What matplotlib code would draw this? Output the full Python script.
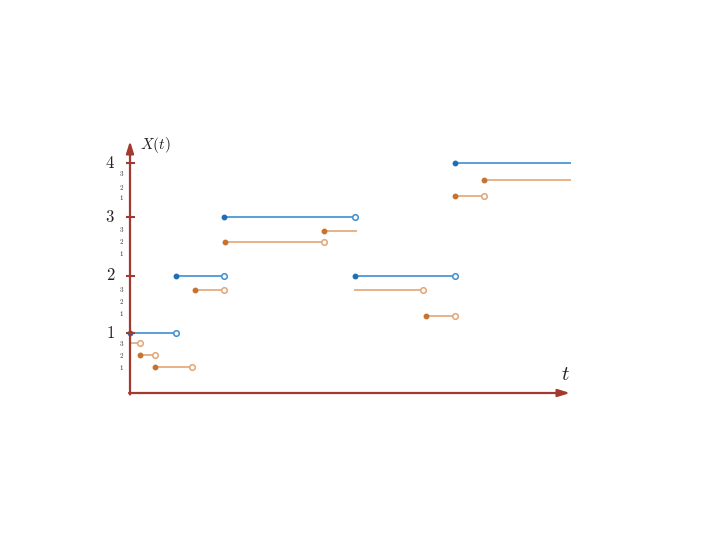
import matplotlib
matplotlib.use("Agg")
import matplotlib.pyplot as plt

plt.rcParams['mathtext.fontset'] = 'cm'
plt.rcParams['font.family'] = ['DejaVu Serif']

# ---- data (t in arbitrary units, y in layout units) ----
major_labels = ['1', '2', '3', '4']
major_y = [6.0, 11.7, 17.6, 23.0]
sub_labels = ['3', '2', '1']
sub_y = [[5.0, 3.8, 2.6], [10.3, 9.1, 8.0], [16.3, 15.2, 14.0], [21.9, 20.6, 19.5]]

blue_start = [0.0, 4.6, 9.4, 22.5, 32.5]
blue_end = [4.6, 9.4, 22.5, 32.5, 44.1]
blue_y = [6.0, 11.7, 17.6, 11.7, 23.0]
blue_start_mark = [True, True, True, True, True]
blue_end_mark = [True, True, True, True, False]

orange_start = [0.0, 1.0, 2.5, 6.5, 9.5, 19.4, 22.4, 29.6, 32.5, 35.4]
orange_end = [1.0, 2.5, 6.2, 9.4, 19.4, 22.7, 29.3, 32.5, 35.4, 44.1]
orange_y = [5.0, 3.8, 2.6, 10.3, 15.1, 16.2, 10.3, 7.7, 19.7, 21.3]
orange_start_mark = [False, True, True, True, True, True, False, True, True, True]
orange_end_mark = [True, True, True, True, True, False, True, True, True, False]

BLUE_LINE = '#3d8fd1'
BLUE_MARK = '#1f6fb5'
ORANGE_LINE = '#e2a577'
ORANGE_MARK = '#c8722f'
AXIS = '#a33a2f'

fig = plt.figure(figsize=(7.11, 5.34), dpi=100)
ax = fig.add_axes([0, 0, 1, 1])
ax.set_xlim(-13, 58.1)
ax.set_ylim(-14.1, 39.3)
ax.axis('off')

def draw(starts, ends, ys, smark, emark, lc, mc):
    for s, e, y, sm, em in zip(starts, ends, ys, smark, emark):
        ax.plot([s, e], [y, y], color=lc, lw=1.2, solid_capstyle='butt', zorder=2)
        if sm:
            ax.plot([s], [y], 'o', ms=3.2, color=mc, zorder=4)
        if em:
            ax.plot([e], [y], 'o', ms=4.0, mfc='white', mec=lc, mew=1.1, zorder=4)

draw(orange_start, orange_end, orange_y, orange_start_mark, orange_end_mark, ORANGE_LINE, ORANGE_MARK)
draw(blue_start, blue_end, blue_y, blue_start_mark, blue_end_mark, BLUE_LINE, BLUE_MARK)

# axes arrows
ax.annotate('', xy=(0, 25.2), xytext=(0, -0.15),
            arrowprops=dict(arrowstyle='-|>,head_length=0.7,head_width=0.22', color=AXIS, lw=1.6,
                            shrinkA=0, shrinkB=0), zorder=5)
ax.annotate('', xy=(44.0, 0), xytext=(-0.1, 0),
            arrowprops=dict(arrowstyle='-|>,head_length=0.7,head_width=0.22', color=AXIS, lw=1.6,
                            shrinkA=0, shrinkB=0), zorder=5)

# major ticks and labels
for lab, y in zip(major_labels, major_y):
    ax.plot([-0.45, 0.45], [y, y], color=AXIS, lw=1.5, zorder=5, solid_capstyle='butt')
    ax.text(-1.5, y, '$' + lab + '$', ha='right', va='center', fontsize=12, color='#222222')

for ys in sub_y:
    for lab, y in zip(sub_labels, ys):
        ax.text(-0.6, y, '$' + lab + '$', ha='right', va='center', fontsize=5, color='#333333')

ax.text(1.0, 24.8, r'$X(t)$', ha='left', va='center', fontsize=11, color='#222222')
ax.text(43.5, 1.9, r'$t$', ha='center', va='center', fontsize=15, color='#222222')

fig.savefig('out.png', dpi=100)
